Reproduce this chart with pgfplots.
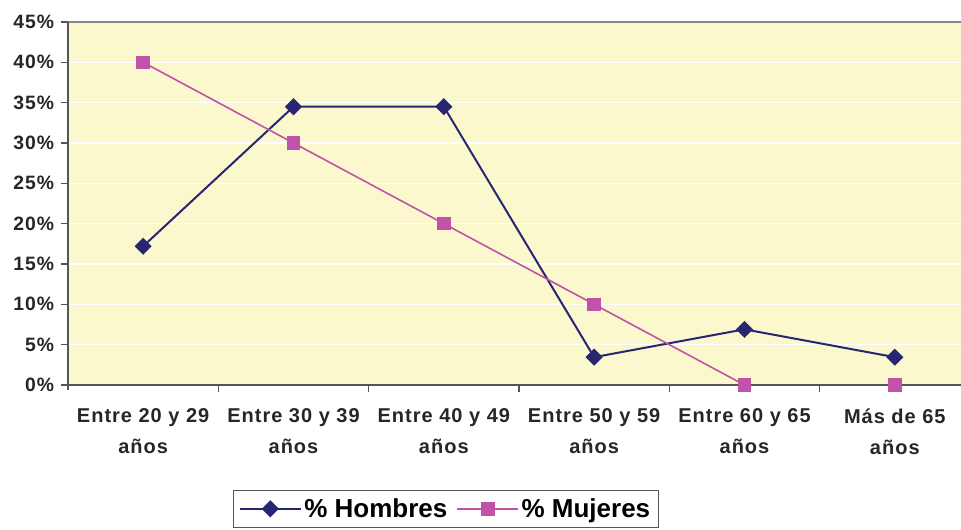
\documentclass[border=0pt]{standalone}
\usepackage{fontspec}
\setmainfont{Liberation Sans}
\usepackage{pgfplots}
\pgfplotsset{compat=1.18}
\definecolor{hombres}{HTML}{262672}
\definecolor{mujeres}{HTML}{C052A8}
\definecolor{plotbg}{HTML}{FBF8CD}
\definecolor{axisgray}{HTML}{555555}

\begin{document}
\begin{tikzpicture}
\begin{axis}[scale only axis,width=676.5pt,height=272.25pt,
 at={(0,0)},anchor=south west,
 xmin=-0.5,xmax=5.5,ymin=0,ymax=45,
 axis background/.style={fill=plotbg},
 axis line style={draw=none},
 xtick={0,...,5},
 xticklabels={Entre 20 y 29\\años,Entre 30 y 39\\años,Entre 40 y 49\\años,Entre 50 y 59\\años,Entre 60 y 65\\años,Más de 65\\años},
 minor xtick={0.5,1.5,...,5.5},
 major x tick style={draw=none},
 minor x tick style={draw=axisgray,line width=0.8pt},
 minor tick length=5pt,
 x tick label style={font=\fontsize{15}{23.5}\selectfont\bfseries\addfontfeature{LetterSpace=5},align=center,yshift=-9pt,text=black!85,text depth=0pt},
 ytick={0,5,...,45},
 yticklabel={\pgfmathprintnumber{\tick}\%},
 y tick label style={font=\fontsize{14.5}{16}\selectfont\bfseries\addfontfeature{LetterSpace=5},text=black!85,xshift=-2pt},
 major y tick style={draw=axisgray,line width=0.8pt},
 major tick length=5pt,
 tick pos=left,tick align=outside,
 /pgf/number format/assume math mode=true,
 ymajorgrids,grid style={white,line width=0.8pt},
 legend columns=2,
 legend style={at={(0.183,-0.289)},anchor=north west,draw=axisgray,line width=0.8pt,
   font=\fontsize{19.5}{22}\selectfont\bfseries,inner sep=4pt,
   /tikz/every even column/.append style={column sep=5pt}},
 legend image code/.code={\draw[#1,mark repeat=2,mark phase=2] plot coordinates {(0cm,0cm) (0.8cm,0cm) (1.6cm,0cm)};},
 clip=false]
\addplot[hombres,line width=1.5pt,mark=square*,mark size=3.8pt,mark options={solid,fill=hombres,rotate=45}]
 coordinates {(0,17.2) (1,34.5) (2,34.5) (3,3.45) (4,6.9) (5,3.45)};
\addlegendentry{\% Hombres}
\addplot[mujeres,line width=1.2pt,mark=square*,mark size=4.5pt,mark options={solid,fill=mujeres}]
 coordinates {(0,40) (1,30) (2,20) (3,10) (4,0) (5,0)};
\addlegendentry{\% Mujeres}
\draw[axisgray!70,line width=1.5pt] (rel axis cs:0,1) -- (rel axis cs:1,1);
\draw[axisgray,line width=1pt] (rel axis cs:0,-0.015) -- (rel axis cs:0,1);
\draw[axisgray,line width=1.2pt] (rel axis cs:0,0) -- (rel axis cs:1,0);
\end{axis}
\pgfresetboundingbox
\path[use as bounding box] (-51pt,-108.75pt) rectangle (669.75pt,288.75pt);
\end{tikzpicture}
\end{document}
